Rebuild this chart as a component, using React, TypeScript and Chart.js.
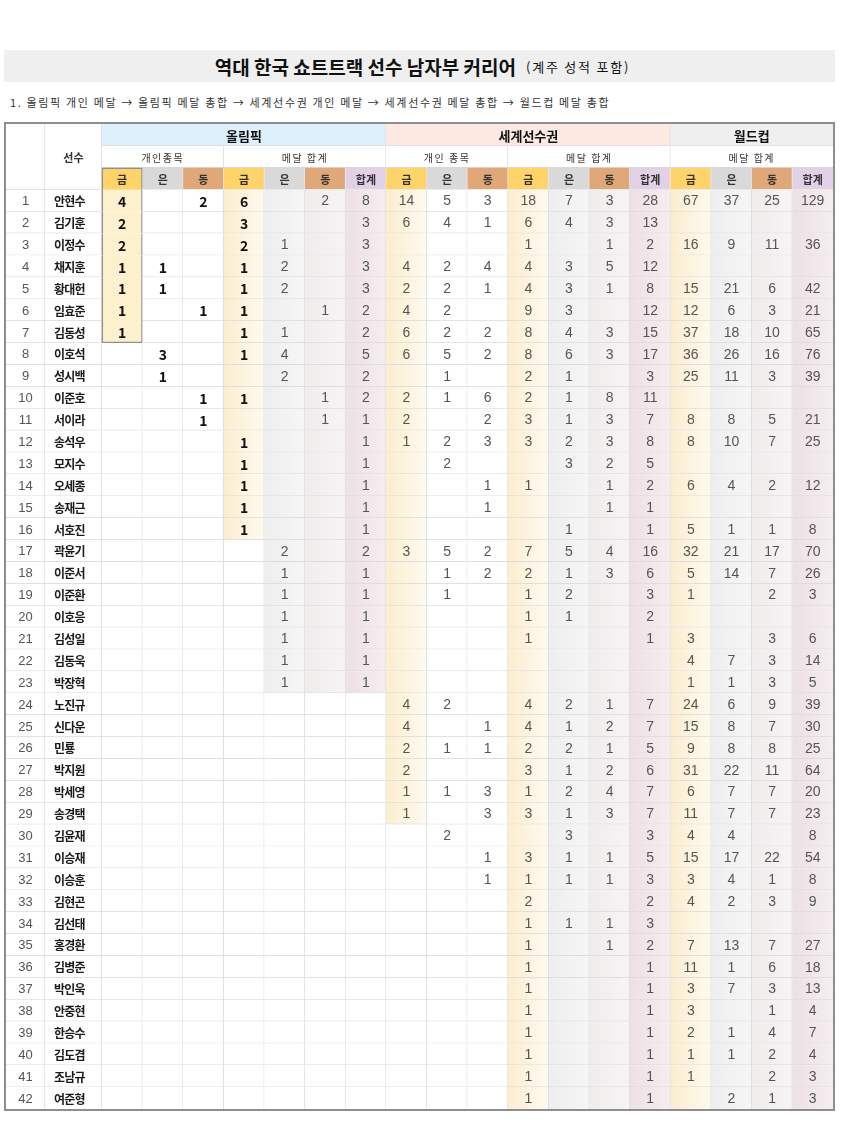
import React, { useEffect, useRef } from 'react';
import { Chart, registerables } from 'chart.js';

Chart.register(...registerables);

const N = null;

// ---------- DATA ----------
const players = [
  '안현수', '김기훈', '이정수', '채지훈', '황대헌', '임효준', '김동성', '이호석', '성시백', '이준호',
  '서이라', '송석우', '모지수', '오세종', '송재근', '서호진', '곽윤기', '이준서', '이준환', '이호응',
  '김성일', '김동욱', '박장혁', '노진규', '신다운', '민룡', '박지원', '박세영', '송경택', '김윤재',
  '이승재', '이승훈', '김현곤', '김선태', '홍경환', '김병준', '박인욱', '안중현', '한승수', '김도겸',
  '조남규', '여준형',
];

// Olympic individual events
const olyIndGold = [4, 2, 2, 1, 1, 1, 1, N, N, N, N, N, N, N, N, N, N, N, N, N, N, N, N, N, N, N, N, N, N, N, N, N, N, N, N, N, N, N, N, N, N, N];
const olyIndSilver = [N, N, N, 1, 1, N, N, 3, 1, N, N, N, N, N, N, N, N, N, N, N, N, N, N, N, N, N, N, N, N, N, N, N, N, N, N, N, N, N, N, N, N, N];
const olyIndBronze = [2, N, N, N, N, 1, N, N, N, 1, 1, N, N, N, N, N, N, N, N, N, N, N, N, N, N, N, N, N, N, N, N, N, N, N, N, N, N, N, N, N, N, N];
// Olympic medal totals
const olyTotGold = [6, 3, 2, 1, 1, 1, 1, 1, N, 1, N, 1, 1, 1, 1, 1, N, N, N, N, N, N, N, N, N, N, N, N, N, N, N, N, N, N, N, N, N, N, N, N, N, N];
const olyTotSilver = [N, N, 1, 2, 2, N, 1, 4, 2, N, N, N, N, N, N, N, 2, 1, 1, 1, 1, 1, 1, N, N, N, N, N, N, N, N, N, N, N, N, N, N, N, N, N, N, N];
const olyTotBronze = [2, N, N, N, N, 1, N, N, N, 1, 1, N, N, N, N, N, N, N, N, N, N, N, N, N, N, N, N, N, N, N, N, N, N, N, N, N, N, N, N, N, N, N];
const olyTotal = [8, 3, 3, 3, 3, 2, 2, 5, 2, 2, 1, 1, 1, 1, 1, 1, 2, 1, 1, 1, 1, 1, 1, N, N, N, N, N, N, N, N, N, N, N, N, N, N, N, N, N, N, N];
// World Championships individual events
const wchIndGold = [14, 6, N, 4, 2, 4, 6, 6, N, 2, 2, 1, N, N, N, N, 3, N, N, N, N, N, N, 4, 4, 2, 2, 1, 1, N, N, N, N, N, N, N, N, N, N, N, N, N];
const wchIndSilver = [5, 4, N, 2, 2, 2, 2, 5, 1, 1, N, 2, 2, N, N, N, 5, 1, 1, N, N, N, N, 2, N, 1, N, 1, N, 2, N, N, N, N, N, N, N, N, N, N, N, N];
const wchIndBronze = [3, 1, N, 4, 1, N, 2, 2, N, 6, 2, 3, N, 1, 1, N, 2, 2, N, N, N, N, N, N, 1, 1, N, 3, 3, N, 1, 1, N, N, N, N, N, N, N, N, N, N];
// World Championships medal totals
const wchTotGold = [18, 6, 1, 4, 4, 9, 8, 8, 2, 2, 3, 3, N, 1, N, N, 7, 2, 1, 1, 1, N, N, 4, 4, 2, 3, 1, 3, N, 3, 1, 2, 1, 1, 1, 1, 1, 1, 1, 1, 1];
const wchTotSilver = [7, 4, N, 3, 3, 3, 4, 6, 1, 1, 1, 2, 3, N, N, 1, 5, 1, 2, 1, N, N, N, 2, 1, 2, 1, 2, 1, 3, 1, 1, N, 1, N, N, N, N, N, N, N, N];
const wchTotBronze = [3, 3, 1, 5, 1, N, 3, 3, N, 8, 3, 3, 2, 1, 1, N, 4, 3, N, N, N, N, N, 1, 2, 1, 2, 4, 3, N, 1, 1, N, 1, 1, N, N, N, N, N, N, N];
const wchTotal = [28, 13, 2, 12, 8, 12, 15, 17, 3, 11, 7, 8, 5, 2, 1, 1, 16, 6, 3, 2, 1, N, N, 7, 7, 5, 6, 7, 7, 3, 5, 3, 2, 3, 2, 1, 1, 1, 1, 1, 1, 1];
// World Cup medal totals
const wcGold = [67, N, 16, N, 15, 12, 37, 36, 25, N, 8, 8, N, 6, N, 5, 32, 5, 1, N, 3, 4, 1, 24, 15, 9, 31, 6, 11, 4, 15, 3, 4, N, 7, 11, 3, 3, 2, 1, 1, N];
const wcSilver = [37, N, 9, N, 21, 6, 18, 26, 11, N, 8, 10, N, 4, N, 1, 21, 14, N, N, N, 7, 1, 6, 8, 8, 22, 7, 7, 4, 17, 4, 2, N, 13, 1, 7, N, 1, 1, N, 2];
const wcBronze = [25, N, 11, N, 6, 3, 10, 16, 3, N, 5, 7, N, 2, N, 1, 17, 7, 2, N, 3, 3, 3, 9, 7, 8, 11, 7, 7, N, 22, 1, 3, N, 7, 6, 3, 1, 4, 2, 2, 1];
const wcTotal = [129, N, 36, N, 42, 21, 65, 76, 39, N, 21, 25, N, 12, N, 8, 70, 26, 3, N, 6, 14, 5, 39, 30, 25, 64, 20, 23, 8, 54, 8, 9, N, 27, 18, 13, 4, 7, 4, 3, 3];

const groupLabels = ['올림픽', '세계선수권', '월드컵'];
const subLabels = ['개인종목', '메달 합계', '개인 종목', '메달 합계', '메달 합계'];
const medalLabels = ['금', '은', '동', '금', '은', '동', '합계', '금', '은', '동', '금', '은', '동', '합계', '금', '은', '동', '합계'];
const headerTitle = '역대 한국 쇼트트랙 선수 남자부 커리어';
const headerNote = '(계주 성적 포함)';
const sortNote = '1. 올림픽 개인 메달 → 올림픽 메달 총합 → 세계선수권 개인 메달 → 세계선수권 메달 총합 → 월드컵 메달 총합';
const playerHeader = '선수';

const columns = [
  olyIndGold, olyIndSilver, olyIndBronze,
  olyTotGold, olyTotSilver, olyTotBronze, olyTotal,
  wchIndGold, wchIndSilver, wchIndBronze,
  wchTotGold, wchTotSilver, wchTotBronze, wchTotal,
  wcGold, wcSilver, wcBronze, wcTotal,
];

// ---------- LAYOUT / STYLE ----------
const groupSpans = [7, 7, 4];
const subSpans = [3, 4, 3, 4, 4];
const medalKinds = ['g', 's', 'b', 'g', 's', 'b', 't', 'g', 's', 'b', 'g', 's', 'b', 't', 'g', 's', 'b', 't'];
const fillRows = [7, 0, 0, 16, 23, 23, 23, 29, 0, 0, 42, 42, 42, 42, 42, 42, 42, 42];
const boldCols = [true, true, true, true, false, false, false, false, false, false, false, false, false, false, false, false, false, false];

const ROWNUM_W = 0.96;
const NAME_W = 1.4;
const X_NAME = ROWNUM_W;
const X_DATA = ROWNUM_W + NAME_W;
const X_MAX = X_DATA + 18;

const KR = '"Noto Sans CJK KR", "Noto Sans", sans-serif';
const NUM = '"Liberation Sans", Arial, sans-serif';
const LINE = '#dadada';
const BOX = '#8f8f8f';
const groupFill = ['#ddf0fb', '#fde8e2', '#efefef'];
const headFill: Record<string, string> = { g: '#fdd36a', s: '#d9d9d9', b: '#e0a878', t: '#e2d0e6' };
const cellGrad: Record<string, [string, string]> = {
  g: ['#fbeecf', '#fefaf1'],
  s: ['#eeeeee', '#f6f6f6'],
  b: ['#efecec', '#f6f4f4'],
  t: ['#ede0e6', '#f5eef1'],
};
const boxFill = '#fdf0cc';

type BW = { top: number; right: number; bottom: number; left: number };
type Cell = {
  y: number; x0: number; x1: number;
  bg: string | [string, string];
  bw: BW; bc: string;
  text?: string; font?: string; color?: string; align?: 'left' | 'center'; ty?: number; ls?: string;
};

const rowLabels = ['h1', 'h2', 'h3', ...players];

function bw(top: number, right: number, bottom: number, left: number): BW {
  return { top, right, bottom, left };
}

function buildCells(): Cell[] {
  const cells: Cell[] = [];
  const nRows = players.length;
  for (let h = 0; h < 3; h++) {
    const b = bw(0, 1, h === 2 ? 1 : 0, 0);
    cells.push({ y: h, x0: 0, x1: X_NAME, bg: '#ffffff', bw: b, bc: LINE });
    cells.push({
      y: h, x0: X_NAME, x1: X_DATA, bg: '#ffffff', bw: b, bc: LINE,
      ...(h === 1 ? { text: playerHeader, font: `bold 11px ${KR}`, color: '#333', align: 'center' as const, ty: 1 } : {}),
    });
  }
  let x = X_DATA;
  groupLabels.forEach((g, i) => {
    const last = i === groupLabels.length - 1;
    cells.push({
      y: 0, x0: x, x1: x + groupSpans[i], bg: groupFill[i], bw: bw(0, last ? 0 : 1, 1, 0), bc: LINE,
      text: g, font: `bold 13px ${KR}`, color: '#111',
    });
    x += groupSpans[i];
  });
  x = X_DATA;
  subLabels.forEach((s, i) => {
    const last = i === subLabels.length - 1;
    cells.push({
      y: 1, x0: x, x1: x + subSpans[i], bg: '#ffffff', bw: bw(0, last ? 0 : 1, 1, 0), bc: LINE,
      text: s, font: `10px ${KR}`, color: '#333', ls: '1.5px',
    });
    x += subSpans[i];
  });
  medalLabels.forEach((m, c) => {
    const x0 = X_DATA + c;
    const last = c === 17;
    const inBox = fillRows[c] > 0 && c === 0;
    cells.push({
      y: 2, x0, x1: x0 + 1, bg: headFill[medalKinds[c]],
      bw: inBox ? bw(1.5, 1.5, 0, 1.5) : bw(0, last ? 0 : 1, 1, 0),
      bc: inBox ? BOX : '#e8e8e8',
      text: m, font: `bold 11px ${KR}`, color: '#333',
    });
  });
  for (let r = 0; r < nRows; r++) {
    const y = r + 3;
    const lastRow = r === nRows - 1;
    const bottom = lastRow ? 0 : 1;
    cells.push({
      y, x0: 0, x1: X_NAME, bg: '#ffffff', bw: bw(0, 1, bottom, 0), bc: LINE,
      text: String(r + 1), font: `13px ${NUM}`, color: '#555',
    });
    cells.push({
      y, x0: X_NAME, x1: X_DATA, bg: '#ffffff', bw: bw(0, 1, bottom, 0), bc: LINE,
      text: players[r], font: `bold 12px ${KR}`, color: '#1a1a1a', align: 'left', ls: '-0.8px',
    });
    columns.forEach((col, c) => {
      const x0 = X_DATA + c;
      const v = col[r];
      const filled = r < fillRows[c];
      const box = c === 0 && filled;
      const cell: Cell = {
        y, x0, x1: x0 + 1,
        bg: box ? boxFill : filled ? cellGrad[medalKinds[c]] : '#ffffff',
        bw: box ? bw(0, 1.5, r === fillRows[c] - 1 ? 1.5 : 0, 1.5) : bw(0, c === 17 ? 0 : 1, bottom, 0),
        bc: box ? BOX : LINE,
      };
      if (v !== null && v !== undefined) {
        cell.text = String(v);
        cell.font = boldCols[c] ? `bold 14px ${KR}` : `14px ${NUM}`;
        cell.color = boldCols[c] ? '#111' : '#555';
      }
      cells.push(cell);
    });
  }
  return cells;
}

export default function App() {
  const canvasRef = useRef<HTMLCanvasElement | null>(null);

  useEffect(() => {
    const canvas = canvasRef.current;
    if (!canvas) return;
    const cells = buildCells();

    const textPlugin = {
      id: 'cellText',
      afterDatasetsDraw(chart: any) {
        const { ctx } = chart;
        const xs = chart.scales.x;
        const ys = chart.scales.y;
        ctx.save();
        ctx.textBaseline = 'middle';
        for (const c of cells) {
          if (!c.text) continue;
          ctx.font = c.font;
          ctx.fillStyle = c.color;
          (ctx as any).letterSpacing = c.ls || '0px';
          const y = ys.getPixelForValue(c.ty !== undefined ? c.ty : c.y) + 1;
          const px0 = xs.getPixelForValue(c.x0);
          const px1 = xs.getPixelForValue(c.x1);
          if (c.align === 'left') {
            ctx.textAlign = 'left';
            ctx.fillText(c.text, px0 + 9, y);
          } else {
            ctx.textAlign = 'center';
            ctx.fillText(c.text, (px0 + px1) / 2, y);
          }
        }
        ctx.restore();
      },
    };

    const chart = new Chart(canvas, {
      type: 'bar',
      data: {
        labels: rowLabels,
        datasets: [
          {
            data: cells.map((c) => ({ x: [c.x0, c.x1], y: rowLabels[c.y] })) as any,
            backgroundColor: (ctx: any) => {
              const c = cells[ctx.dataIndex];
              if (!c) return '#ffffff';
              if (typeof c.bg === 'string') return c.bg;
              const xs = ctx.chart.scales.x;
              if (!xs) return c.bg[0];
              const g = ctx.chart.ctx.createLinearGradient(xs.getPixelForValue(c.x0), 0, xs.getPixelForValue(c.x1), 0);
              g.addColorStop(0, c.bg[0]);
              g.addColorStop(1, c.bg[1]);
              return g;
            },
            borderColor: (ctx: any) => (cells[ctx.dataIndex] ? cells[ctx.dataIndex].bc : LINE),
            borderWidth: (ctx: any) => (cells[ctx.dataIndex] ? { ...cells[ctx.dataIndex].bw } : 0),
            borderSkipped: false,
            barPercentage: 1,
            categoryPercentage: 1,
          } as any,
        ],
      },
      options: {
        indexAxis: 'y',
        responsive: false,
        animation: false,
        events: [],
        layout: { padding: 0 },
        plugins: {
          legend: { display: false },
          tooltip: { enabled: false },
          title: { display: false },
        },
        scales: {
          x: { type: 'linear', min: 0, max: X_MAX, display: false },
          y: { type: 'category', display: false, offset: true },
        },
      } as any,
      plugins: [textPlugin],
    });
    return () => chart.destroy();
  }, []);

  return (
    <div style={{ position: 'absolute', left: 0, top: 0, width: 850, height: 1126, background: '#ffffff' }}>
      <div
        style={{
          position: 'absolute', left: 4, top: 50, width: 831, height: 32, background: '#efefef',
          display: 'flex', alignItems: 'center', justifyContent: 'center', fontFamily: KR, color: '#111',
        }}
      >
        <span style={{ fontWeight: 700, fontSize: 19, marginLeft: 6 }}>{headerTitle}</span>
        <span style={{ fontSize: 13, marginLeft: 10, letterSpacing: '1.8px' }}>{headerNote}</span>
      </div>
      <div
        style={{
          position: 'absolute', left: 10, top: 94, fontFamily: KR, fontSize: 11, color: '#333',
          letterSpacing: '1.65px', whiteSpace: 'nowrap',
        }}
      >
        {sortNote}
      </div>
      <div
        style={{
          position: 'absolute', left: 4, top: 122, width: 831, height: 989,
          border: '2px solid #8e8e8e', boxSizing: 'border-box',
        }}
      >
        <canvas ref={canvasRef} width={827} height={985} style={{ display: 'block', width: 827, height: 985 }} />
      </div>
    </div>
  );
}
